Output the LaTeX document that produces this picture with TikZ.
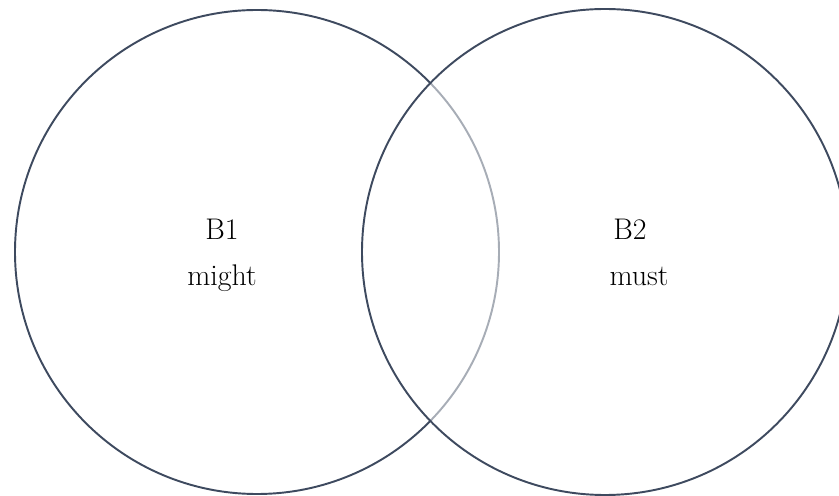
\documentclass[tikz,border=0pt]{standalone}
\usepackage{tikz}

\definecolor{ringcol}{HTML}{3E4A5F}

\begin{document}
\begin{tikzpicture}[x=0.02cm,y=-0.02cm,line join=round,line cap=round]
			\useasboundingbox (0,0) rectangle (839,496);
			\tikzset{ring/.style={draw=ringcol,line width=1.1pt},
				lbl/.style={anchor=base,font=\fontsize{17}{20}\selectfont,inner sep=0pt}}
			\coordinate (C1) at (257,252);
			\coordinate (C2) at (605,252);
			\begin{scope}
				\clip (0,0) rectangle (839,496);
				\draw[ring] (C1) circle (242);
				\fill[white,opacity=0.55] (C2) circle (243);
				\draw[ring] (C2) circle (243);
			\end{scope}
			\node[lbl] (b1) at (222,240) {B1};
			\node[lbl] (m1) at (222,286) {might};
			\node[lbl] (b2) at (630,240) {B2};
			\node[lbl] (m2) at (639,286) {must};
		\end{tikzpicture}
\end{document}
